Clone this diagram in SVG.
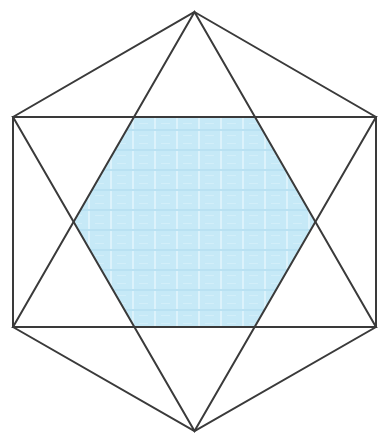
<svg xmlns="http://www.w3.org/2000/svg" width="378" height="434" viewBox="0 0 378 434">
<style>
.ln{fill:none;stroke:#3a3a3a;stroke-width:2;stroke-linejoin:miter}
</style>
<defs>
<pattern id="tex" x="0" y="0" width="22" height="20" patternUnits="userSpaceOnUse">
<rect width="22" height="20" fill="#c6e9f7"/>
<rect x="0" y="0" width="2" height="20" fill="#dcf2fb"/>
<rect x="0" y="9" width="22" height="2" fill="#b9e1f2"/>
<rect x="7" y="3" width="9" height="1" fill="#d2eef9"/>
<rect x="7" y="15" width="9" height="1" fill="#d2eef9"/>
</pattern>
</defs>
<rect width="378" height="434" fill="#ffffff"/>
<g id="inner-hexagon">
<polygon points="134,117 255,117 315.5,222 255,327 134,327 73.5,222" fill="url(#tex)"/>
</g>
<g id="connectors">
<polygon class="ln" points="194.5,12 376,117 376,327 194.5,431 13,327 13,117"/>
<rect class="ln" x="13" y="117" width="363" height="210"/>
<polygon class="ln" points="194.5,12 376,327 13,327"/>
<polygon class="ln" points="194.5,431 13,117 376,117"/>
</g>
</svg>
